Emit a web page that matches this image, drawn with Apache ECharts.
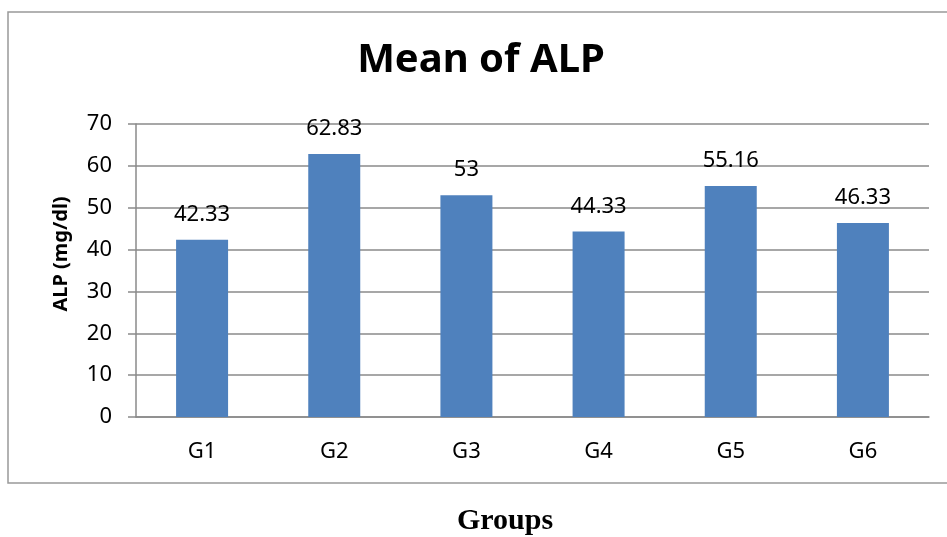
<!DOCTYPE html>
<html>
<head>
<meta charset="utf-8">
<script src="https://cdn.jsdelivr.net/npm/echarts@6/dist/echarts.min.js"></script>
<style>
html,body{margin:0;padding:0;background:#fff;}
#chart{width:947px;height:537px;}
</style>
</head>
<body>
<div id="chart"></div>
<script>
const categories = ['G1','G2','G3','G4','G5','G6'];
const values = [42.33, 62.83, 53, 44.33, 55.16, 46.33];
const labels = ['42.33','62.83','53','44.33','55.16','46.33'];
const yTicks = [0,10,20,30,40,50,60,70];

const chart = echarts.init(document.getElementById('chart'), null, {renderer:'canvas'});
const font = '"Noto Sans", "Open Sans", sans-serif';
chart.setOption({
  animation: false,
  backgroundColor: '#fff',
  grid: {left: 136, right: 18, top: 124, bottom: 120, containLabel: false},
  xAxis: {
    type: 'category',
    data: categories,
    axisLine: {lineStyle: {color: '#8a8a8a', width: 1.5}},
    axisTick: {show: false},
    axisLabel: {color: '#000', fontFamily: font, fontSize: 22, margin: 24}
  },
  yAxis: {
    type: 'value',
    min: yTicks[0], max: yTicks[yTicks.length-1], interval: 10,
    axisLine: {show: true, lineStyle: {color: '#8a8a8a', width: 1.5}},
    axisTick: {show: true, length: 8, lineStyle: {color: '#8a8a8a', width: 1.5}},
    splitLine: {lineStyle: {color: '#8a8a8a', width: 1.5}},
    axisLabel: {color: '#000', fontFamily: font, fontSize: 22, margin: 24}
  },
  series: [{
    type: 'bar',
    data: values,
    barWidth: 52,
    itemStyle: {color: '#4F81BD'},
    label: {
      show: true, position: 'top', distance: 14,
      color: '#000', fontFamily: font, fontSize: 22,
      formatter: p => labels[p.dataIndex]
    }
  }],
  graphic: [
    {type: 'rect', shape: {x: 8, y: 12, width: 960, height: 471},
     style: {fill: 'none', stroke: '#999', lineWidth: 1.5}, silent: true, z: -1},
    {type: 'text', x: 481, y: 61,
     style: {text: 'Mean of ALP', fontFamily: font, fontWeight: 'bold', fontSize: 40, fill: '#000', align: 'center', verticalAlign: 'middle'}},
    {type: 'text', x: 61, y: 254, rotation: Math.PI/2,
     style: {text: 'ALP (mg/dl)', fontFamily: font, fontWeight: 'bold', fontSize: 20, fill: '#000', align: 'center', verticalAlign: 'middle'}},
    {type: 'text', x: 505, y: 521,
     style: {text: 'Groups', fontFamily: '"Liberation Serif", "Times New Roman", serif', fontWeight: 'bold', fontSize: 30, fill: '#000', align: 'center', verticalAlign: 'middle'}}
  ]
});
</script>
</body>
</html>
